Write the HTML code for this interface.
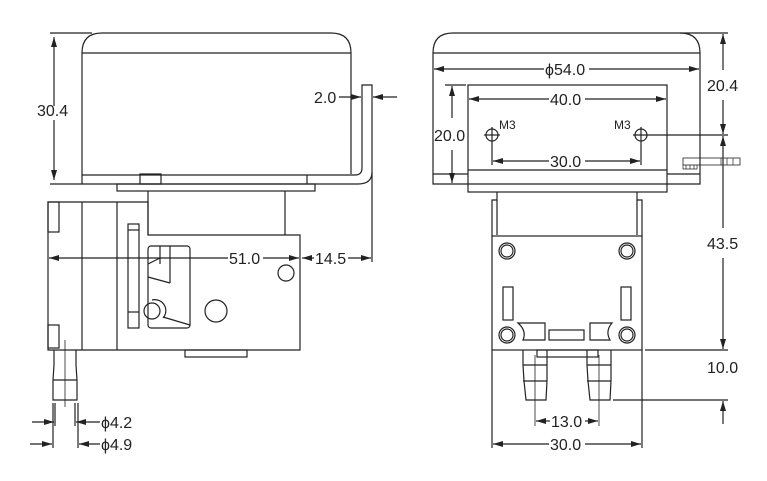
<!DOCTYPE html>
<html><head><meta charset="utf-8"><style>html,body{margin:0;padding:0;background:#fff}svg{display:block}text{font-family:"Liberation Sans",sans-serif;font-size:16px;fill:#222}</style></head><body>
<svg width="767" height="481" viewBox="0 0 767 481" xmlns="http://www.w3.org/2000/svg">
<defs><marker id="a" viewBox="0 0 10 6" refX="10" refY="3" markerWidth="10" markerHeight="6" orient="auto-start-reverse" markerUnits="userSpaceOnUse"><path d="M0,0 L10,3 L0,6 z" fill="#222"/></marker></defs>
<g fill="none" stroke="#222" stroke-width="1.2">
<!-- LEFT VIEW motor -->
<path d="M82,53 Q82,33 102,33 L331,33 Q351,33 351,53"/>
<line x1="82" y1="53" x2="351" y2="53"/>
<path d="M82,53 V184 H307"/>
<line x1="351" y1="53" x2="351" y2="174"/>
<line x1="82" y1="175" x2="307" y2="175"/>
<line x1="307" y1="175" x2="307" y2="184"/>
<rect x="140" y="174" width="21" height="10"/>
<!-- bracket -->
<path d="M307,175 H355 Q362,175 362,168 V85 H372 V172 Q372,184 358,184 H307"/>
<line x1="372" y1="172" x2="372" y2="262"/>
<!-- 30.4 -->
<line x1="50" y1="33" x2="92" y2="33"/><line x1="50" y1="184" x2="82" y2="184"/>
<line x1="54" y1="37" x2="54" y2="106" marker-start="url(#a)"/><line x1="54" y1="120" x2="54" y2="180" marker-end="url(#a)"/>
<!-- 2.0 -->
<line x1="339" y1="97" x2="361" y2="97" marker-end="url(#a)"/>
<line x1="397" y1="97" x2="373" y2="97" marker-end="url(#a)"/>
<!-- flange -->
<rect x="117" y="184" width="198" height="7"/>
<line x1="148" y1="191" x2="148" y2="235"/><line x1="285" y1="191" x2="285" y2="235"/>
<!-- pump head -->
<path d="M48,202 H148 V235 H300 V350 H48 Z"/>
<line x1="82" y1="202" x2="82" y2="350"/><line x1="117" y1="202" x2="117" y2="350"/>
<rect x="48" y="202" width="11" height="30"/><rect x="48" y="325" width="11" height="23"/>
<rect x="128" y="224" width="11" height="104"/>
<line x1="128" y1="230" x2="139" y2="230"/><line x1="128" y1="312" x2="139" y2="312"/>
<rect x="148" y="246" width="42" height="82" rx="3"/>
<line x1="160" y1="246" x2="160" y2="264"/><line x1="170" y1="246" x2="170" y2="283"/>
<line x1="148" y1="264" x2="160" y2="258"/><line x1="148" y1="277" x2="170" y2="283"/>
<line x1="163" y1="317" x2="190" y2="325"/>
<circle cx="152" cy="311" r="8"/><path d="M152,300 A11,11 0 0 1 163,318"/>
<circle cx="216" cy="311" r="11"/><circle cx="286" cy="273" r="8"/>
<rect x="185" y="350" width="62" height="7"/>
<!-- tube -->
<path d="M54,350 V365 L53,380 V400 H77 V380 L76,365 V350"/>
<line x1="53" y1="380" x2="77" y2="380"/>
<line x1="65" y1="340" x2="65" y2="407" stroke-width="0.8"/>
<!-- 51.0 / 14.5 -->
<line x1="228" y1="258" x2="49" y2="258" marker-end="url(#a)"/>
<line x1="263" y1="258" x2="299" y2="258" marker-end="url(#a)"/>
<line x1="314" y1="258" x2="302" y2="258" marker-end="url(#a)"/>
<line x1="348" y1="258" x2="371" y2="258" marker-end="url(#a)"/>
<!-- 4.2 / 4.9 -->
<line x1="55" y1="403" x2="55" y2="426"/><line x1="75" y1="403" x2="75" y2="426"/>
<line x1="53" y1="403" x2="53" y2="448"/><line x1="78" y1="403" x2="78" y2="448"/>
<line x1="32" y1="422" x2="54" y2="422" marker-end="url(#a)"/><line x1="100" y1="422" x2="76" y2="422" marker-end="url(#a)"/>
<line x1="30" y1="444" x2="52" y2="444" marker-end="url(#a)"/><line x1="100" y1="444" x2="79" y2="444" marker-end="url(#a)"/>

<!-- RIGHT VIEW -->
<path d="M433,53 Q433,33 453,33 L680,33 Q700,33 700,53"/>
<line x1="433" y1="53" x2="700" y2="53"/>
<path d="M433,53 V184 H700 V53"/>
<line x1="433" y1="174" x2="468" y2="174"/><line x1="667" y1="174" x2="700" y2="174"/>
<rect x="468" y="85" width="199" height="107"/>
<line x1="468" y1="170" x2="667" y2="170"/>
<line x1="544" y1="69" x2="434" y2="69" marker-end="url(#a)"/><line x1="589" y1="69" x2="699" y2="69" marker-end="url(#a)"/>
<line x1="549" y1="99" x2="469" y2="99" marker-end="url(#a)"/><line x1="585" y1="99" x2="666" y2="99" marker-end="url(#a)"/>
<line x1="445" y1="85" x2="466" y2="85"/>
<line x1="452" y1="118" x2="452" y2="86" marker-end="url(#a)"/><line x1="452" y1="150" x2="452" y2="183" marker-end="url(#a)"/>
<circle cx="492" cy="135" r="6"/><line x1="484" y1="135" x2="500" y2="135"/><line x1="492" y1="127" x2="492" y2="165"/>
<circle cx="641" cy="135" r="6"/><line x1="633" y1="135" x2="728" y2="135"/><line x1="641" y1="127" x2="641" y2="165"/>
<line x1="549" y1="161" x2="493" y2="161" marker-end="url(#a)"/><line x1="585" y1="161" x2="640" y2="161" marker-end="url(#a)"/>
<!-- connector -->
<rect x="683" y="158" width="57" height="7" stroke-width="0.8"/>
<path d="M683,165 v4 h14 v-4 M686,165v4 M690,165v4 M694,165v4 M721,158v7 M727,158v7 M733,158v7" stroke-width="0.7"/>
<!-- right dims -->
<line x1="680" y1="33" x2="728" y2="33"/>
<line x1="723" y1="70" x2="723" y2="34" marker-end="url(#a)"/><line x1="723" y1="100" x2="723" y2="134" marker-end="url(#a)"/>
<line x1="723" y1="228" x2="723" y2="136" marker-end="url(#a)"/><line x1="723" y1="258" x2="723" y2="349" marker-end="url(#a)"/>
<line x1="645" y1="350" x2="728" y2="350"/><line x1="613" y1="400" x2="728" y2="400"/>
<line x1="723" y1="424" x2="723" y2="401" marker-end="url(#a)"/>
<!-- neck -->
<path d="M492,236 V200 H497 V192 M642,236 V200 H637 V192"/>
<line x1="497" y1="200" x2="497" y2="235"/><line x1="637" y1="200" x2="637" y2="235"/>
<rect x="492" y="236" width="150" height="114"/>
<g><circle cx="507" cy="251" r="8"/><circle cx="507" cy="251" r="6"/><circle cx="627" cy="251" r="8"/><circle cx="627" cy="251" r="6"/><circle cx="507" cy="335" r="8"/><circle cx="507" cy="335" r="6"/><circle cx="627" cy="335" r="8"/><circle cx="627" cy="335" r="6"/></g>
<rect x="503" y="287" width="10" height="33"/><rect x="621" y="287" width="10" height="33"/>
<path d="M518,323 H545 V340 H523 Q527,331 518,323 Z"/>
<path d="M590,323 H612 Q605,331 610,340 H590 Z"/>
<rect x="549" y="330" width="35" height="10"/>
<rect x="537" y="350" width="61" height="7"/>
<path d="M523,350 V365 L524,381 L526,400 H546 L547,381 L547,365 V350 M523,381 H547 M523,365 H547"/>
<path d="M587,350 V365 L588,381 L590,400 H610 L611,381 L611,365 V350 M587,381 H611 M587,365 H611"/>
<line x1="535" y1="355" x2="535" y2="426" stroke-width="0.8"/><line x1="599" y1="355" x2="599" y2="426" stroke-width="0.8"/>
<line x1="550" y1="421" x2="536" y2="421" marker-end="url(#a)"/><line x1="585" y1="421" x2="598" y2="421" marker-end="url(#a)"/>
<line x1="492" y1="350" x2="492" y2="448"/><line x1="642" y1="350" x2="642" y2="448"/>
<line x1="549" y1="444" x2="493" y2="444" marker-end="url(#a)"/><line x1="585" y1="444" x2="641" y2="444" marker-end="url(#a)"/>
</g>
<text x="37" y="116">30.4</text>
<text x="314" y="103">2.0</text>
<text x="229" y="264">51.0</text>
<text x="315" y="264">14.5</text>
<text x="101" y="428">ϕ4.2</text>
<text x="101" y="450">ϕ4.9</text>
<text x="545" y="75">ϕ54.0</text>
<text x="550" y="105">40.0</text>
<text x="434" y="141">20.0</text>
<text x="499" y="129" style="font-size:12px">M3</text>
<text x="614" y="129" style="font-size:12px">M3</text>
<text x="550" y="167">30.0</text>
<text x="707" y="91">20.4</text>
<text x="707" y="249">43.5</text>
<text x="707" y="373">10.0</text>
<text x="551" y="427">13.0</text>
<text x="550" y="450">30.0</text>
</svg>
</body></html>
